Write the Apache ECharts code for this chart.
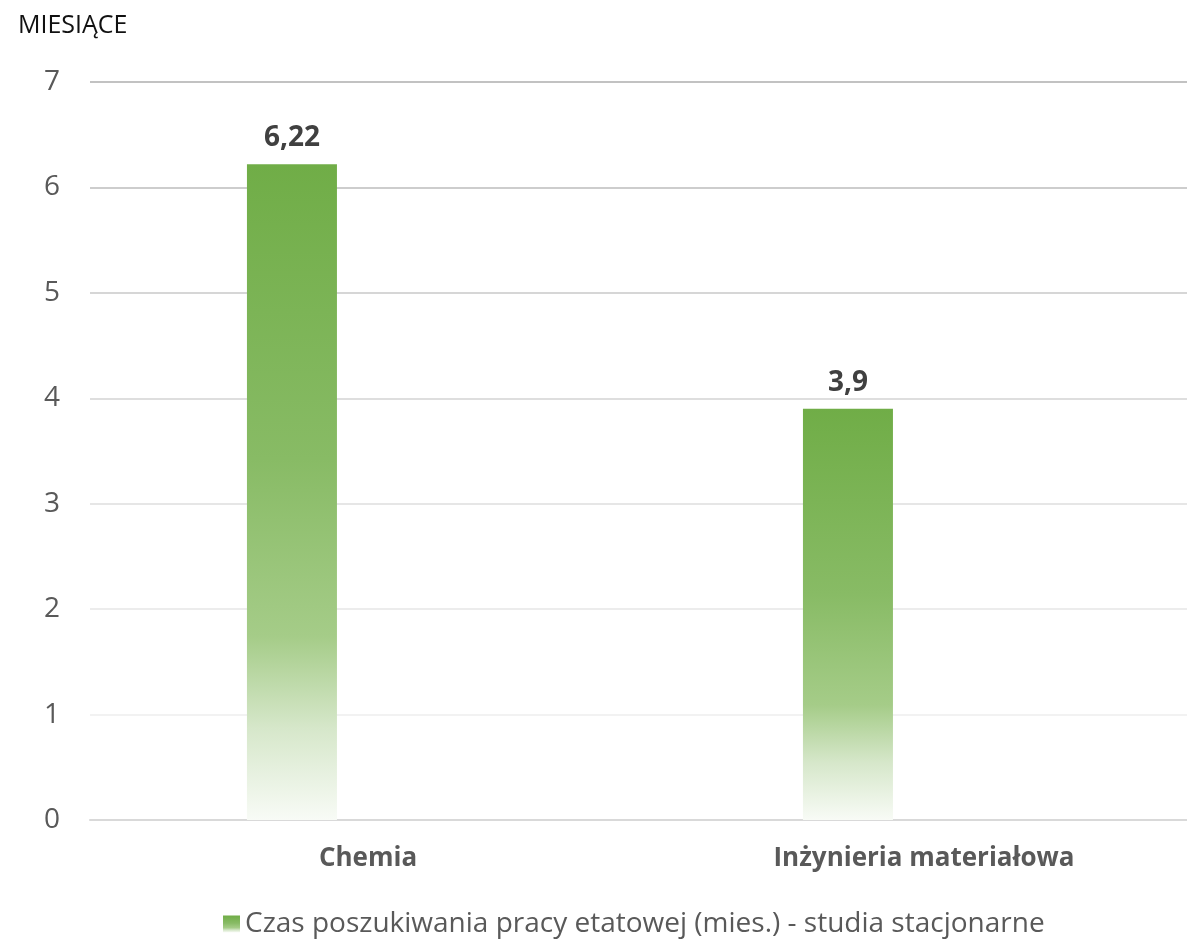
<!DOCTYPE html>
<html>
<head>
<meta charset="utf-8">
<script src="https://cdn.jsdelivr.net/npm/echarts@6/dist/echarts.min.js"></script>
<style>html,body{margin:0;padding:0;background:#fff;overflow:hidden;width:1187px;height:939px;}#c{width:1202px;height:939px;}</style>
</head>
<body>
<div id="c"></div>
<script>
const categories = ['Chemia', 'Inżynieria materiałowa'];
const seriesName = 'Czas poszukiwania pracy etatowej (mies.) - studia stacjonarne';
const values = [6.22, 3.9];
const yTicks = [0, 1, 2, 3, 4, 5, 6, 7];
const yTitle = 'MIESIĄCE';

const FONT = '"Open Sans", "Noto Sans", sans-serif';
const chart = echarts.init(document.getElementById('c'));
const grad = new echarts.graphic.LinearGradient(0, 0, 0, 1, [
  {offset: 0, color: '#70ad47'},
  {offset: 0.45, color: '#88bb65'},
  {offset: 0.72, color: '#a5cc88'},
  {offset: 0.86, color: '#d6e7ca'},
  {offset: 1, color: '#f8fbf6'}
]);
chart.setOption({
  animation: false,
  title: {text: yTitle, left: 13, top: 8, textStyle: {fontFamily: FONT, fontSize: 25, fontWeight: 'normal', color: '#111'}},
  grid: {left: 90, right: 0, top: 82, bottom: 119, containLabel: false},
  legend: {
    data: [seriesName], top: 905, left: 218, icon: 'rect', itemWidth: 17, itemHeight: 17, itemGap: 10,
    textStyle: {fontFamily: FONT, fontSize: 28, color: '#595959'}
  },
  xAxis: {
    type: 'category', data: categories,
    axisLine: {lineStyle: {color: '#d9d9d9', width: 2}},
    axisTick: {show: false},
    axisLabel: {fontFamily: FONT, fontSize: 26, fontWeight: 'bold', color: '#595959', margin: 26}
  },
  yAxis: {
    type: 'value', min: yTicks[0], max: yTicks[yTicks.length - 1], interval: 1,
    axisLine: {show: false}, axisTick: {show: false},
    axisLabel: {fontFamily: FONT, fontSize: 28, color: '#595959', margin: 30},
    splitLine: {lineStyle: {width: 2, color: ['#d9d9d9', '#f2f2f2', '#ececec', '#e6e6e6', '#dedede', '#d6d6d6', '#cdcdcd', '#c2c2c2']}}
  },
  series: [
    {
      name: seriesName, type: 'bar', data: values, barWidth: 90, barGap: '69%',
      itemStyle: {color: grad},
      label: {
        show: true, position: 'top', distance: 12,
        fontFamily: FONT, fontSize: 28, fontWeight: 'bold', color: '#404040',
        formatter: p => String(p.value).replace('.', ',')
      }
    },
    {name: 'ukryta', type: 'bar', data: ['-', '-'], barWidth: 90}
  ]
});
</script>
</body>
</html>
